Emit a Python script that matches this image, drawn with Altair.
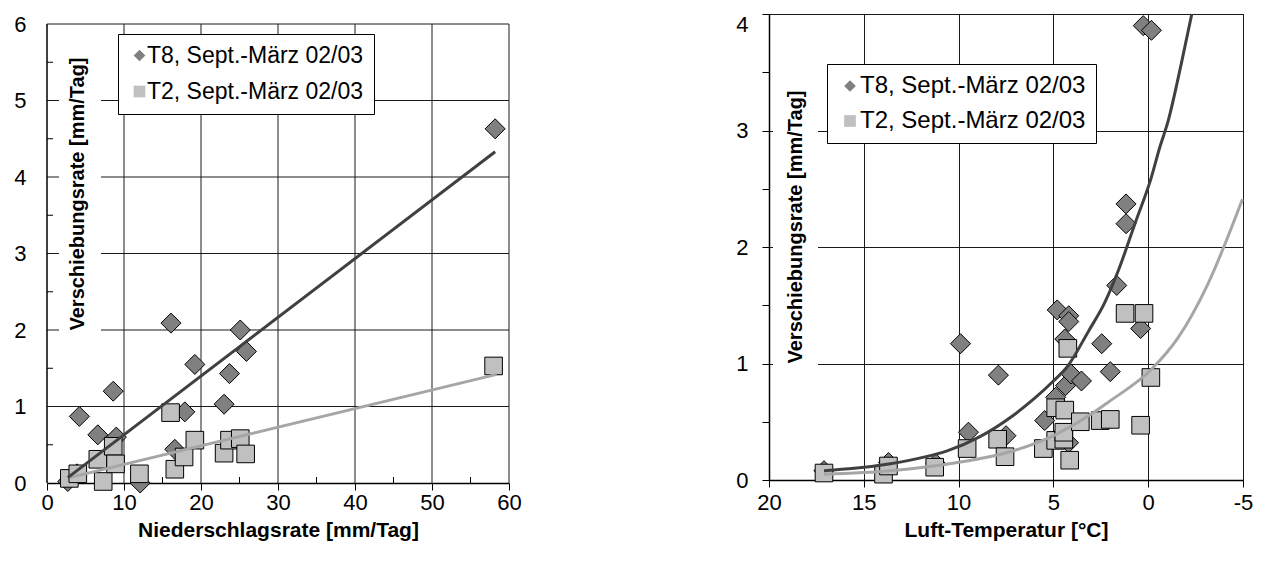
import altair as alt
import pandas as pd

FONT = "Liberation Sans"
S8 = "T8, Sept.-März 02/03"
S2 = "T2, Sept.-März 02/03"
SERIES = [S8, S2]

# ---------------- left panel: Niederschlagsrate ----------------
rain_t8_x = [2.7, 3.9, 4.2, 6.6, 8.6, 9.0, 12.1, 16.1, 16.6, 17.9, 19.2, 23.0, 23.7, 25.1, 25.9, 58.2]
rain_t8_y = [0.02, 0.12, 0.87, 0.63, 1.20, 0.60, 0.00, 2.09, 0.44, 0.93, 1.55, 1.03, 1.43, 2.00, 1.72, 4.63]
rain_t2_x = [2.9, 4.0, 6.6, 7.3, 8.6, 8.9, 12.0, 16.05, 16.6, 17.8, 19.2, 23.0, 23.7, 25.1, 25.8, 58.0]
rain_t2_y = [0.06, 0.12, 0.31, 0.02, 0.48, 0.25, 0.12, 0.92, 0.18, 0.34, 0.56, 0.39, 0.56, 0.58, 0.38, 1.53]
rain_trend_t8_x = [2.7, 58.2]
rain_trend_t8_y = [0.07, 4.33]
rain_trend_t2_x = [2.9, 58.4]
rain_trend_t2_y = [0.07, 1.42]
rain_x_ticks = [0, 10, 20, 30, 40, 50, 60]
rain_x_minor = [5, 15, 25, 35, 45, 55]
rain_y_ticks = [0, 1, 2, 3, 4, 5, 6]
rain_y_minor = [0.5, 1.5, 2.5, 3.5, 4.5, 5.5]
RAIN_X_MAX = 60
RAIN_Y_MAX = 6

# ---------------- right panel: Luft-Temperatur ----------------
temp_t8_x = [17.1, 13.7, 11.2, 9.9, 9.48, 7.9, 7.5, 5.46, 4.88, 4.8, 4.4, 4.36, 4.19, 4.19, 4.07,
             4.2, 3.52, 2.45, 2.0, 1.66, 1.17, 1.17, 0.4, 0.26, -0.17]
temp_t8_y = [0.08, 0.15, 0.14, 1.17, 0.41, 0.90, 0.38, 0.51, 0.71, 1.46, 1.21, 0.81, 1.41, 1.36, 0.91,
             0.32, 0.85, 1.17, 0.93, 1.67, 2.37, 2.20, 1.30, 3.90, 3.86]
temp_t2_x = [17.1, 13.96, 13.7, 11.26, 9.55, 7.94, 7.55, 5.53, 4.88, 4.88, 4.45, 4.45, 4.4, 4.24,
             4.14, 3.58, 2.53, 2.0, 1.22, 0.22, 0.4, -0.14]
temp_t2_y = [0.06, 0.05, 0.12, 0.11, 0.27, 0.35, 0.20, 0.27, 0.62, 0.34, 0.35, 0.41, 0.60, 1.13,
             0.17, 0.50, 0.51, 0.52, 1.43, 1.43, 0.47, 0.88]
temp_trend_t8_x = [17.1, 15.5, 13.6, 12.0, 10.6, 8.9, 7.16, 6.0, 5.0, 4.28, 3.14, 2.3, 1.57, 0.70,
                   -0.17, -0.6, -1.05, -1.74, -2.3]
temp_trend_t8_y = [0.08, 0.10, 0.14, 0.19, 0.25, 0.37, 0.55, 0.70, 0.85, 0.97, 1.28, 1.52, 1.80, 2.20,
                   2.60, 2.85, 3.08, 3.57, 4.0]
temp_trend_t2_x = [17.1, 13.6, 10.05, 7.33, 4.88, 2.96, 2.09, -0.17, -1.57, -3.14, -4.97]
temp_trend_t2_y = [0.05, 0.08, 0.15, 0.24, 0.39, 0.57, 0.67, 0.95, 1.22, 1.68, 2.41]
temp_x_ticks = [-5, 0, 5, 10, 15, 20]
temp_y_ticks = [0, 0.5, 1, 1.5, 2, 2.5, 3, 3.5, 4]

Y_TITLE = "Verschiebungsrate [mm/Tag]"
GRID = "#1a1a1a"

# left plot: 459 px for 0..6 plus an empty 10 px band above it
LEFT_W, LEFT_H = 462, 469
LEFT_Y_TOP = RAIN_Y_MAX * LEFT_H / 459.0


def legend(lx, ly, fs, symoff, laboff):
    return alt.Legend(title=None, orient="none", legendX=lx, legendY=ly,
                      fillColor="white", strokeColor="black", padding=10, cornerRadius=0,
                      labelFont=FONT, labelFontSize=fs, labelColor="black",
                      labelOffset={"expr": str(laboff)},
                      symbolSize=137, symbolStrokeColor="black", symbolStrokeWidth=1,
                      symbolOffset=symoff, rowPadding=35 - fs, labelLimit=400)


def panel(x8, y8, x2, y2, tr8, tr2, xscale, yscale, xaxis, yaxis, leg, w, h, box, ytitle_pos,
          pre_layers):
    X = lambda f="x": alt.X(f"{f}:Q", scale=xscale, axis=xaxis, title=None)
    Y = lambda f="y": alt.Y(f"{f}:Q", scale=yscale, axis=yaxis, title=None)
    shape = alt.Shape("series:N", scale=alt.Scale(domain=SERIES, range=["diamond", "square"]), legend=leg)
    fill = alt.Fill("series:N", scale=alt.Scale(domain=SERIES, range=["#808080", "#C0C0C0"]), legend=leg)
    layers = [f(X, Y) for f in pre_layers]
    # white box behind the (inside) y title
    layers.append(
        alt.Chart(pd.DataFrame({"a": [0]})).mark_rect(color="white").encode(
            x=alt.value(box[0]), x2=alt.value(box[1]), y=alt.value(box[2]), y2=alt.value(box[3]))
    )
    layers.append(
        alt.Chart(pd.DataFrame({"x": x8, "y": y8, "series": [S8] * len(x8)})).mark_point(
            filled=True, opacity=1, stroke="black", strokeWidth=1, size=400).encode(
            x=X(), y=Y(), shape=shape, fill=fill)
    )
    layers.append(
        alt.Chart(pd.DataFrame({"x": x2, "y": y2, "series": [S2] * len(x2)})).mark_point(
            filled=True, opacity=1, stroke="black", strokeWidth=1, size=310).encode(
            x=X(), y=Y(), shape=shape, fill=fill)
    )
    layers.append(
        alt.Chart(tr2).mark_line(color="#A6A6A6", strokeWidth=3, interpolate="monotone").encode(x=X(), y=Y())
    )
    layers.append(
        alt.Chart(tr8).mark_line(color="#404040", strokeWidth=3, interpolate="monotone").encode(x=X(), y=Y())
    )
    layers.append(
        alt.Chart(pd.DataFrame({"a": [0]})).mark_text(
            text=Y_TITLE, angle=270, font=FONT, fontSize=20, fontWeight="bold", color="black",
            align="center", baseline="middle").encode(x=alt.value(ytitle_pos[0]), y=alt.value(ytitle_pos[1]))
    )
    return alt.layer(*layers).properties(width=w, height=h)


common_axis = dict(tickColor="black", labelFont=FONT, labelFontSize=22, labelColor="black",
                   labelFlush=False, labelOverlap=False, domainColor="black", domainWidth=1.5)

# ---- left axes (grid drawn as rules so it stops at the top border) ----
left_xaxis = alt.Axis(values=rain_x_ticks, tickSize=7, labelPadding=2, grid=False,
                      title="Niederschlagsrate [mm/Tag]", titleFont=FONT, titleFontSize=21,
                      titleFontWeight="bold", titleColor="black", titlePadding=6, **common_axis)
left_yaxis = alt.Axis(values=rain_y_ticks, ticks=False, labelPadding=21, grid=False,
                      domain=False, **{k: v for k, v in common_axis.items() if not k.startswith("domain")})

rain_vgrid = pd.DataFrame({"x": rain_x_ticks[1:], "y0": [0] * 6, "y1": [RAIN_Y_MAX] * 6})
rain_hgrid = pd.DataFrame({"y": rain_y_ticks[1:], "x0": [0] * 6, "x1": [RAIN_X_MAX] * 6})
rain_yline = pd.DataFrame({"x": [0], "y0": [0], "y1": [RAIN_Y_MAX]})


def lg_v(X, Y):
    return alt.Chart(rain_vgrid).mark_rule(color=GRID, strokeWidth=1).encode(
        x=X(), y=Y("y0"), y2="y1")


def lg_h(X, Y):
    return alt.Chart(rain_hgrid).mark_rule(color=GRID, strokeWidth=1).encode(
        y=Y(), x=X("x0"), x2="x1")


def lg_yline(X, Y):
    return alt.Chart(rain_yline).mark_rule(color="black", strokeWidth=1.5).encode(
        x=X(), y=Y("y0"), y2="y1")


def lg_minor_y(X, Y):
    return alt.Chart(pd.DataFrame({"y": rain_y_minor})).mark_rule(color="black", strokeWidth=1).encode(
        y=Y(), x=alt.value(0), x2=alt.value(6))


def lg_minor_x(X, Y):
    return alt.Chart(pd.DataFrame({"x": rain_x_minor})).mark_rule(color="black", strokeWidth=1).encode(
        x=X(), y=alt.value(LEFT_H - 6), y2=alt.value(LEFT_H))


right_common = dict(grid=True, gridColor=GRID, gridWidth=1, **common_axis)
right_xaxis = alt.Axis(values=temp_x_ticks, tickSize=7, labelPadding=5, labelExpr="datum.value + ''",
                       title="Luft-Temperatur [°C]", titleFont=FONT, titleFontSize=21,
                       titleFontWeight="bold", titleColor="black", titlePadding=6, **right_common)
right_yaxis = alt.Axis(values=temp_y_ticks, tickSize=7, labelPadding=14,
                       labelExpr="datum.value % 1 === 0 ? format(datum.value, 'd') : ''",
                       gridOpacity={"condition": {"test": "datum.value % 1 === 0", "value": 1}, "value": 0},
                       labelOffset={"condition": {"test": "datum.value === 4", "value": 10}, "value": 0},
                       **right_common)

left = panel(
    rain_t8_x, rain_t8_y, rain_t2_x, rain_t2_y,
    pd.DataFrame({"x": rain_trend_t8_x, "y": rain_trend_t8_y}),
    pd.DataFrame({"x": rain_trend_t2_x, "y": rain_trend_t2_y}),
    alt.Scale(domain=[0, RAIN_X_MAX], nice=False, zero=False),
    alt.Scale(domain=[0, LEFT_Y_TOP], nice=False, zero=False),
    left_xaxis, left_yaxis, legend(71, 20, 23, 0, -4), LEFT_W, LEFT_H,
    box=(12, 54, 30, 330), ytitle_pos=(31, 180),
    pre_layers=[lg_v, lg_h, lg_yline, lg_minor_y, lg_minor_x],
).properties(view=alt.ViewBackground(stroke="transparent"))

right = panel(
    temp_t8_x, temp_t8_y, temp_t2_x, temp_t2_y,
    pd.DataFrame({"x": temp_trend_t8_x, "y": temp_trend_t8_y}),
    pd.DataFrame({"x": temp_trend_t2_x, "y": temp_trend_t2_y}),
    alt.Scale(domain=[-5, 20], reverse=True, nice=False, zero=False),
    alt.Scale(domain=[0, 4], nice=False, zero=False),
    right_xaxis, right_yaxis, legend(58, 50, 24, 1, -2), 474, 466,
    box=(4, 49, 62, 365), ytitle_pos=(27, 213),
    pre_layers=[],
)

chart = alt.hconcat(left, right, spacing=213).resolve_scale(
    x="independent", y="independent", shape="independent", fill="independent"
).resolve_legend(shape="independent", fill="independent").configure(
    padding={"left": 5, "top": -1, "right": 5, "bottom": 5}, background="white"
).configure_view(stroke="black", strokeWidth=1)

chart.save("out.html", embed_options={"renderer": "svg", "actions": False})
